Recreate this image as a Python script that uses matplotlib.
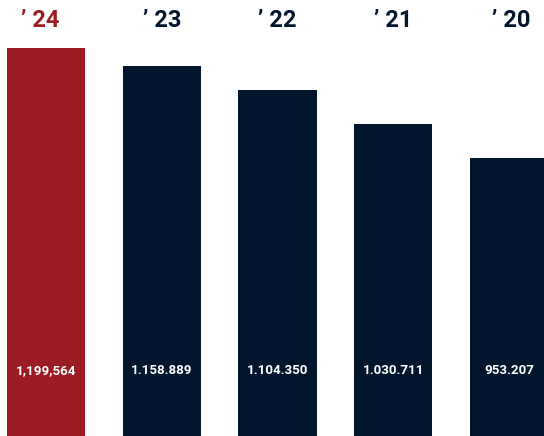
import matplotlib
matplotlib.use("Agg")
import matplotlib.pyplot as plt

years = ["’ 24", "’ 23", "’ 22", "’ 21", "’ 20"]
values = [1199564, 1158889, 1104350, 1030711, 953207]
value_labels = ["1,199,564", "1.158.889", "1.104.350", "1.030.711", "953.207"]
colors = ["#9B1C22", "#01152D", "#01152D", "#01152D", "#01152D"]

fig = plt.figure(figsize=(5.44, 4.36), dpi=100)
ax = fig.add_axes([0, 0, 1, 1])
x = list(range(len(values)))
ax.bar(x, values, width=0.674, color=colors)
ax.set_xlim(-0.397, 4.302)
ax.set_ylim(334270, 1305970)
ax.axis("off")

xoff = [-0.05, 0.0, 0.0, 0.0, 0.02]
for i, (yr, lab, c) in enumerate(zip(years, value_labels, colors)):
    ax.text(i + xoff[i], 0.954, yr, transform=ax.get_xaxis_transform(), ha="center", va="center",
            fontsize=17, fontweight="bold", color=c, family="Roboto")
    ax.text(i, 0.150, lab, transform=ax.get_xaxis_transform(), ha="center", va="center",
            fontsize=9.6, fontweight="bold", color="white", family="Roboto")

fig.savefig("out.png", dpi=100)
